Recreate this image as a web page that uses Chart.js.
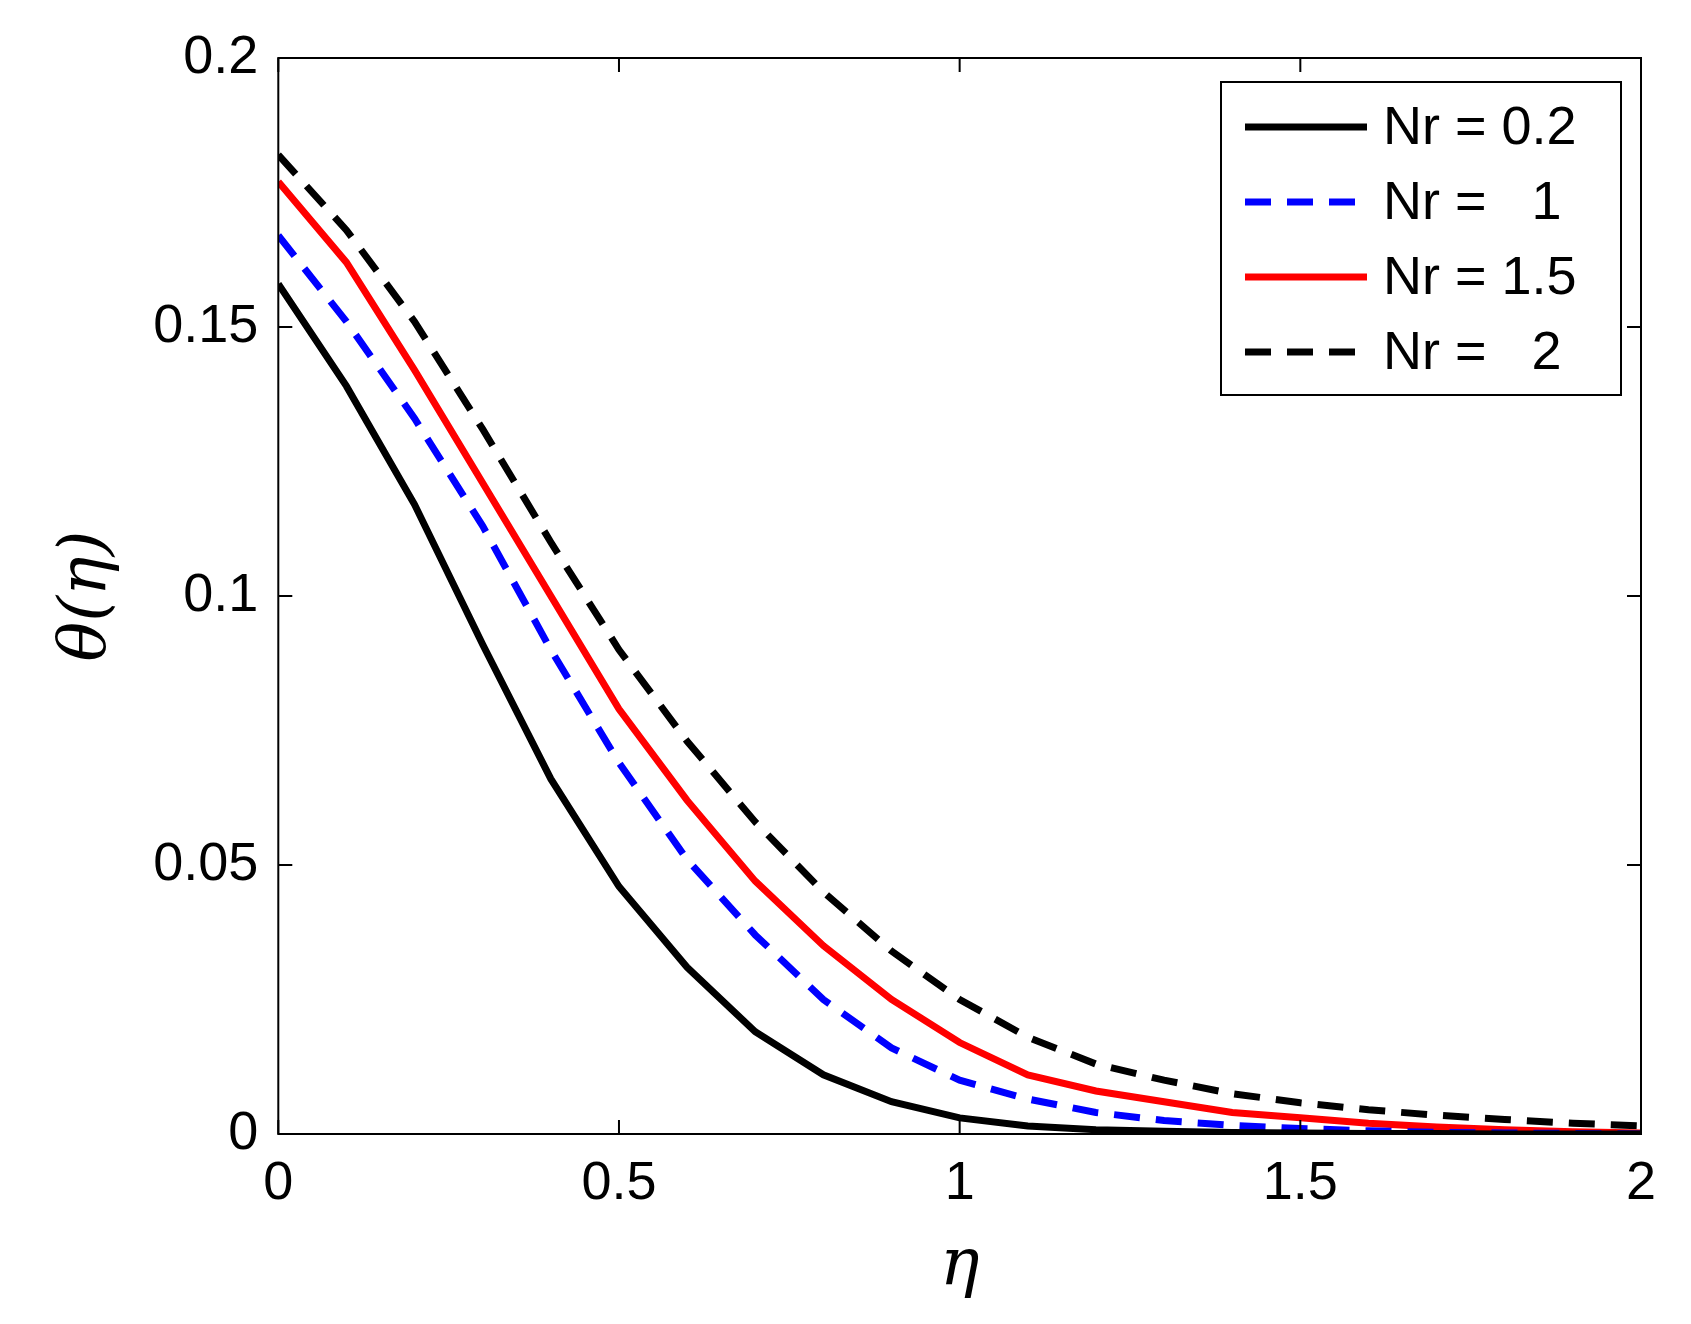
<!DOCTYPE html>
<html>
<head>
<meta charset="utf-8">
<script src="https://cdn.jsdelivr.net/npm/chart.js@4"></script>
<style>
  html, body { margin: 0; background: #fff; }
  #wrap { width: 1691px; height: 1324px; }
</style>
</head>
<body>
<div id="wrap"><canvas id="c"></canvas></div>
<script>
const etas = [0, 0.1, 0.2, 0.3, 0.4, 0.5, 0.6, 0.7, 0.8, 0.9, 1.0, 1.1, 1.2, 1.3, 1.4, 1.5, 1.6, 1.7, 1.8, 1.9, 2.0];
const nr02 = [0.158, 0.139, 0.117, 0.091, 0.066, 0.046, 0.031, 0.019, 0.011, 0.006, 0.003, 0.0015, 0.0008, 0.0005, 0.0003, 0.0002, 0.0001, 0.0001, 0, 0, 0];
const nr1  = [0.167, 0.151, 0.133, 0.113, 0.090, 0.069, 0.051, 0.037, 0.025, 0.016, 0.010, 0.0065, 0.004, 0.0025, 0.0016, 0.001, 0.0006, 0.0003, 0.0002, 0.0001, 0];
const nr15 = [0.177, 0.162, 0.142, 0.121, 0.100, 0.079, 0.062, 0.047, 0.035, 0.025, 0.017, 0.011, 0.008, 0.006, 0.004, 0.003, 0.002, 0.0013, 0.0008, 0.0004, 0.0002];
const nr2  = [0.182, 0.168, 0.151, 0.131, 0.110, 0.090, 0.073, 0.058, 0.045, 0.034, 0.025, 0.018, 0.013, 0.010, 0.0075, 0.0058, 0.0045, 0.0035, 0.0027, 0.002, 0.0015];
const labels = ["Nr = 0.2", "Nr =   1", "Nr = 1.5", "Nr =   2"];
const xTicks = [0, 0.5, 1, 1.5, 2];
const yTicks = [0, 0.05, 0.1, 0.15, 0.2];

const pts = ys => etas.map((x, i) => ({ x: x, y: ys[i] }));
const FONT = "'Liberation Sans', Arial, sans-serif";

// inward ticks on all four sides, box, and legend inside the plot
const frame = {
  id: "frame",
  afterDraw(chart) {
    const { ctx, chartArea: a, scales: { x, y } } = chart;
    ctx.save();
    ctx.strokeStyle = "#000";
    ctx.lineWidth = 2;
    ctx.strokeRect(a.left, a.top, a.right - a.left, a.bottom - a.top);
    const t = 14;
    ctx.beginPath();
    xTicks.forEach(v => {
      const px = x.getPixelForValue(v);
      ctx.moveTo(px, a.bottom); ctx.lineTo(px, a.bottom - t);
      ctx.moveTo(px, a.top); ctx.lineTo(px, a.top + t);
    });
    yTicks.forEach(v => {
      const py = y.getPixelForValue(v);
      ctx.moveTo(a.left, py); ctx.lineTo(a.left + t, py);
      ctx.moveTo(a.right, py); ctx.lineTo(a.right - t, py);
    });
    ctx.stroke();

    // legend
    const bx = 1221, by = 82, bw = 400, bh = 313;
    ctx.fillStyle = "#fff";
    ctx.fillRect(bx, by, bw, bh);
    ctx.lineWidth = 2;
    ctx.strokeRect(bx, by, bw, bh);
    ctx.font = "54px " + FONT;
    ctx.textBaseline = "middle";
    chart.data.datasets.forEach((ds, i) => {
      const ly = by + 45 + i * 75;
      ctx.strokeStyle = ds.borderColor;
      ctx.lineWidth = ds.borderWidth;
      ctx.setLineDash(ds.borderDash || []);
      ctx.beginPath();
      ctx.moveTo(bx + 24, ly); ctx.lineTo(bx + 146, ly);
      ctx.stroke();
      ctx.setLineDash([]);
      ctx.fillStyle = "#000";
      ctx.fillText(ds.label, bx + 162, ly + 2);
    });
    ctx.restore();
  }
};

new Chart(document.getElementById("c"), {
  type: "line",
  data: {
    datasets: [
      { label: labels[0], data: pts(nr02), borderColor: "#000", borderWidth: 7 },
      { label: labels[1], data: pts(nr1), borderColor: "#0000ff", borderWidth: 7, borderDash: [26, 16] },
      { label: labels[2], data: pts(nr15), borderColor: "#ff0000", borderWidth: 7 },
      { label: labels[3], data: pts(nr2), borderColor: "#000", borderWidth: 7, borderDash: [26, 16] }
    ]
  },
  options: {
    responsive: true,
    maintainAspectRatio: false,
    animation: false,
    elements: { point: { radius: 0 }, line: { tension: 0 } },
    layout: { padding: { left: 44, right: 50, top: 58, bottom: 14 } },
    plugins: { legend: { display: false }, tooltip: { enabled: false } },
    scales: {
      x: {
        type: "linear", min: 0, max: 2,
        afterBuildTicks: s => { s.ticks = xTicks.map(v => ({ value: v })); },
        grid: { display: false },
        border: { display: false },
        ticks: { color: "#000", font: { size: 54, family: FONT }, padding: 10, maxRotation: 0, callback: v => String(v) },
        title: { display: true, text: "η", color: "#000", font: { size: 66, family: "'DejaVu Serif', serif", style: "italic" }, padding: { top: 0 } }
      },
      y: {
        min: 0, max: 0.2,
        afterBuildTicks: s => { s.ticks = yTicks.map(v => ({ value: v })); },
        grid: { display: false },
        border: { display: false },
        ticks: { color: "#000", font: { size: 54, family: FONT }, padding: 12, callback: v => String(v) },
        title: { display: true, text: "θ(η)", color: "#000", font: { size: 66, family: "'DejaVu Serif', serif", style: "italic" }, padding: { bottom: 14 } }
      }
    }
  },
  plugins: [frame]
});
</script>
</body>
</html>
